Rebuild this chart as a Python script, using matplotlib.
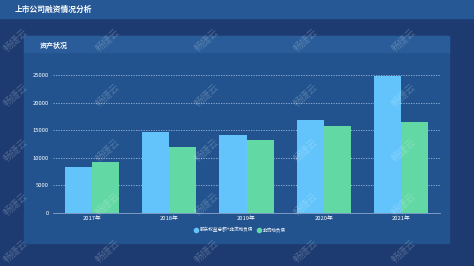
import matplotlib
matplotlib.use("Agg")
import matplotlib.pyplot as plt
from matplotlib.patches import Rectangle
from matplotlib.lines import Line2D
import numpy as np

plt.rcParams['font.family'] = ['Noto Sans CJK SC', 'DejaVu Sans']

years = ["2017年", "2018年", "2019年", "2020年", "2021年"]
equity_plus_debt = [8280, 14620, 14190, 16900, 24880]
noncurrent_debt = [9240, 12010, 13280, 15820, 16490]
series_names = ["股东权益总额+非流动负债", "非流动负债"]
yticks = [0, 5000, 10000, 15000, 20000, 25000]

W, H = 474, 266
fig = plt.figure(figsize=(W / 100, H / 100), dpi=100)
fig.patch.set_facecolor("#1d3b71")

def px_rect(x0, y0, x1, y1, color):
    # rectangle given in pixel coords from top-left
    fig.patches.append(Rectangle((x0 / W, 1 - y1 / H), (x1 - x0) / W, (y1 - y0) / H,
                                 transform=fig.transFigure, color=color, zorder=-5))

px_rect(0, 0, W, 18, "#265896")
px_rect(24, 36, 449, 243, "#22538e")
px_rect(24, 36, 449, 52, "#295c99")

fig.text(15 / W, 1 - 9 / H, "上市公司融资情况分析", color="white", fontsize=5.6,
         fontweight="bold", va="center", ha="left")
fig.text(40 / W, 1 - 45 / H, "资产状况", color="white", fontsize=5,
         fontweight="bold", va="center", ha="left")

ax = fig.add_axes([53 / W, 1 - 213 / H, 387 / W, 138 / H])
ax.set_facecolor("none")

x = np.arange(len(years))
w = 0.35
ax.bar(x - w / 2, equity_plus_debt, w, color="#62c4fb", zorder=3)
ax.bar(x + w / 2, noncurrent_debt, w, color="#62d8a5", zorder=3)

ax.set_xlim(-0.5, len(years) - 0.5)
ax.set_ylim(0, 25000)
ax.set_yticks(yticks)
ax.set_xticks(x)
ax.set_xticklabels(years)
ax.yaxis.grid(True, color="#9bb9de", linestyle=(0, (1.5, 1.5)), linewidth=0.6, zorder=0)
ax.tick_params(axis="both", length=0, labelsize=4.2, colors="white")
ax.tick_params(axis="y", pad=3)
ax.tick_params(axis="x", pad=2)
for s in ["top", "right", "left"]:
    ax.spines[s].set_visible(False)
ax.spines["bottom"].set_color("#8aa6cc")
ax.spines["bottom"].set_linewidth(0.6)

handles = [Line2D([], [], marker="o", linestyle="none", markersize=3, color="#62c4fb"),
           Line2D([], [], marker="o", linestyle="none", markersize=3, color="#62d8a5")]
leg = fig.legend(handles, series_names, loc="center", bbox_to_anchor=(240 / W, 1 - 230 / H),
                 ncol=2, frameon=False, fontsize=3.3, labelcolor="white",
                 handletextpad=0.3, columnspacing=0.8, handlelength=1)

# watermark
for wx in [15, 107, 206, 305, 403]:
    for wy in [40, 95, 150, 204, 251]:
        fig.text(wx / W, 1 - wy / H, "畅捷云", color="white", alpha=0.22, fontsize=7,
                 rotation=42, ha="center", va="center", zorder=10)

fig.savefig("out.png", dpi=100, facecolor=fig.get_facecolor())
